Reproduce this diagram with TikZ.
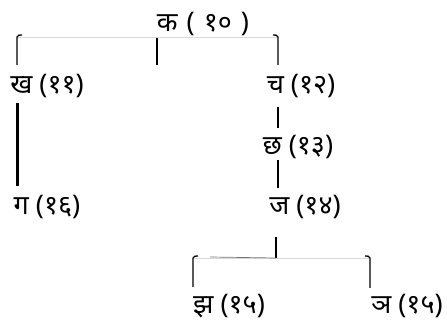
\documentclass[tikz,border=0pt]{standalone}
\usepackage{fontspec}
\newfontfamily\devfont[Script=Devanagari]{Noto Sans}
\begin{document}
\begin{tikzpicture}[x=1pt,y=-1pt,
  lbl/.style={font=\devfont\bfseries\fontsize{27}{30}\selectfont, inner sep=0pt, anchor=center},
  conn/.style={draw=black, line width=1.3pt},
  faint/.style={draw=black!15, line width=0.6pt},
  thick conn/.style={draw=black, line width=3pt}]
\useasboundingbox (0,0) rectangle (447,320);
% nodes
\node[lbl] (ka)  at (203,24)  {क\hspace{9pt}(\hspace{9pt}१०\hspace{9pt})};
\node[lbl] (kha) at (47,86)   {ख (११)};
\node[lbl] (ca)  at (301,86)  {च (१२)};
\node[lbl] (cha) at (298,147) {छ (१३)};
\node[lbl] (ga)  at (47,207)  {ग (१६)};
\node[lbl] (ja)  at (305,207) {ज (१४)};
\node[lbl] (jha) at (229,306) {झ (१५)};
\node[lbl] (nya) at (407,306) {ञ (१५)};
% helper coordinates
\coordinate (t0) at (157,37);
\coordinate (tL) at (17,37);
\coordinate (tR) at (278,37);
\coordinate (b0) at (276,258);
\coordinate (bL) at (193,258);
\coordinate (bR) at (370,258);
% top bracket
\draw[conn] (t0) -- (157,65);
\draw[faint] (tL) -- (tR);
\draw[conn] (22,35) to[out=180,in=90] (tL) -- (17,65);
\draw[conn] (273,35) to[out=0,in=90] (tR) -- (278,65);
% chain under kha
\draw[thick conn] (17,103) -- (17,186);
% chain under ca
\draw[conn] (278,107) -- (278,128);
\draw[conn] (278,160) -- (278,188);
% bottom bracket
\draw[conn] (276,237) -- (b0);
\draw[faint] (bL) -- (bR);
\draw[draw=black!55, line width=0.7pt] (210,257) -- (b0);
\draw[conn] (198,256) to[out=180,in=90] (bL) -- (193,287);
\draw[conn] (365,256) to[out=0,in=90] (bR) -- (370,288);
\end{tikzpicture}
\end{document}
